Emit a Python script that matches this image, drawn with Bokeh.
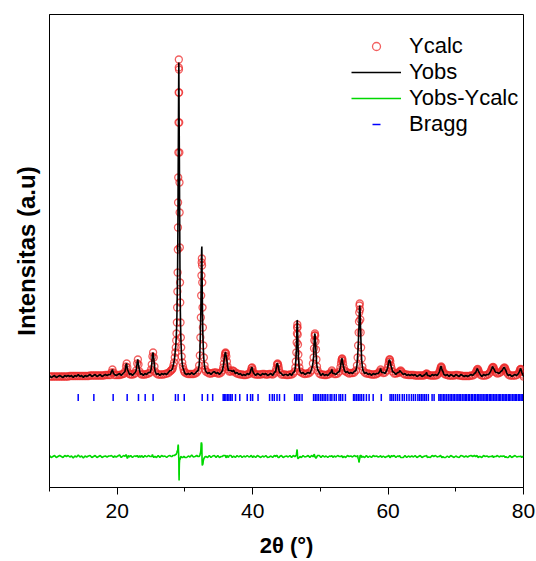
import numpy as np
from bokeh.plotting import figure
from bokeh.models import (Range1d, FixedTicker, Legend, LegendItem,
                          ColumnDataSource)
from bokeh.embed import file_html
from bokeh.resources import INLINE

# ---------------- data ----------------
# rows: background stretches and peaks, the three lists are row-aligned
two_theta = [
    10.0, 10.25, 10.5, 10.75, 11.0, 11.25, 11.5, 11.75, 12.0, 12.25, 12.5, 12.75,
    13.0, 13.25, 13.5, 13.75, 14.0, 14.25, 14.5, 14.75, 15.0, 15.25, 15.5, 15.75,
    16.0, 16.25, 16.5, 16.75, 17.0, 17.25, 17.5, 17.75, 18.0, 18.25, 18.5, 18.75,
    19.0, 19.15, 19.3, 19.45, 19.6,
    19.85, 20.1, 20.35, 20.6, 20.85,
    21.0, 21.15, 21.3, 21.4, 21.5, 21.65, 21.8,
    22.0, 22.25, 22.5, 22.65,
    22.8, 22.95, 23.05, 23.15, 23.3, 23.45,
    23.6, 23.85, 24.1, 24.35, 24.6, 24.85,
    25.0, 25.1, 25.2, 25.3, 25.4, 25.5, 25.6,
    25.8, 26.05, 26.3, 26.55, 26.8, 27.05, 27.3, 27.55, 27.8, 27.95,
    28.1, 28.2, 28.3, 28.4, 28.5, 28.58, 28.65, 28.71, 28.76, 28.81, 28.85,
    28.89, 28.92, 28.95, 28.97, 28.99, 29.01, 29.03, 29.05, 29.07, 29.09,
    29.1, 29.12, 29.14, 29.16, 29.18, 29.2, 29.22, 29.25, 29.28, 29.31,
    29.35, 29.4, 29.45, 29.52, 29.6, 29.7, 29.8, 29.9, 30.0,
    30.25, 30.5, 30.75, 31.0, 31.25, 31.5, 31.75, 31.95,
    32.1, 32.2, 32.28, 32.35, 32.4, 32.44, 32.47, 32.5, 32.53, 32.56,
    32.6, 32.65, 32.72, 32.8, 32.9, 33.0, 33.1,
    33.35, 33.6, 33.85, 34.1, 34.35, 34.6, 34.85, 35.1, 35.35,
    35.55, 35.65, 35.75, 35.83, 35.9, 35.96, 36.0, 36.05, 36.12, 36.2, 36.3, 36.42, 36.55,
    36.8, 37.0, 37.2, 37.45, 37.7, 37.95, 38.2, 38.45, 38.7, 38.95, 39.2, 39.45,
    39.65, 39.75, 39.85, 39.92, 40.0, 40.1, 40.2,
    40.45, 40.7, 40.95, 41.2, 41.45, 41.7, 41.95, 42.2, 42.45, 42.7, 42.95, 43.2,
    43.4, 43.5, 43.6, 43.68, 43.75, 43.82, 43.9, 44.0,
    44.25, 44.5, 44.75, 45.0, 45.25, 45.5, 45.75, 46.0, 46.2,
    46.3, 46.38, 46.45, 46.5, 46.54, 46.57, 46.6, 46.63, 46.66, 46.7, 46.75, 46.82, 46.9, 47.0,
    47.2, 47.45, 47.7, 47.95, 48.2, 48.45, 48.7,
    48.9, 49.0, 49.06, 49.11, 49.16, 49.2, 49.24, 49.29, 49.35, 49.42, 49.5, 49.6,
    49.85, 50.1, 50.35, 50.6, 50.85, 51.1, 51.35,
    51.55, 51.7, 51.85,
    52.05, 52.3, 52.55, 52.8,
    52.95, 53.05, 53.12, 53.18, 53.22, 53.28, 53.35, 53.45, 53.55,
    53.75, 54.0, 54.25, 54.5, 54.75, 55.0, 55.25,
    55.4, 55.5, 55.58, 55.65, 55.7, 55.74, 55.78, 55.82, 55.86, 55.9, 55.95, 56.02, 56.1, 56.2, 56.3,
    56.55, 56.8, 57.05, 57.3, 57.55, 57.8, 58.05, 58.3, 58.55,
    58.75, 58.9, 59.05,
    59.3, 59.55, 59.8,
    59.95, 60.05, 60.13, 60.2, 60.26, 60.33, 60.42, 60.52, 60.65,
    60.9, 61.15, 61.4, 61.6,
    61.72, 61.85, 61.98,
    62.25, 62.5, 62.75, 63.0, 63.25, 63.5, 63.75, 64.0, 64.25, 64.5, 64.75, 65.0, 65.25, 65.45,
    65.6, 65.7, 65.8,
    66.0, 66.25, 66.5, 66.75, 67.0, 67.25, 67.45,
    67.6, 67.7, 67.78, 67.85, 67.92, 68.0, 68.1, 68.25,
    68.5, 68.75, 69.0, 69.25, 69.5, 69.75, 70.0, 70.25, 70.5, 70.75, 71.0, 71.25,
    71.5, 71.75, 72.0, 72.25, 72.5, 72.75,
    72.95, 73.05, 73.15, 73.25, 73.35, 73.45, 73.6,
    73.85, 74.1, 74.35, 74.6, 74.85, 75.05,
    75.2, 75.32, 75.42, 75.5, 75.58, 75.68, 75.8, 75.95,
    76.15, 76.4, 76.65, 76.85,
    77.0, 77.1, 77.2, 77.3, 77.4, 77.55,
    77.75, 78.0, 78.25, 78.5, 78.75, 79.0, 79.25,
    79.4, 79.5, 79.58, 79.65, 79.75, 79.87, 80.0,
]

y_calc = [
    111, 111, 111, 111, 111, 111, 111, 111, 111, 111, 111, 111,
    111.5, 111.5, 111.5, 111.5, 111.5, 111.5, 111.5, 111.5, 111.5, 111.5, 111.5, 111.5,
    112, 112, 112, 112, 112, 112, 112, 112, 112, 112.5, 112.5, 112.5,
    112.5, 115, 118, 115, 112.5,
    112.5, 112.5, 112.5, 113, 113.5,
    114, 116, 121, 124, 120, 115, 113.5,
    113, 113, 113.5, 114.5,
    117, 124, 128, 123, 116, 114,
    113, 113, 113, 113.5, 114, 115,
    118, 123, 131, 135, 130, 121, 116,
    114, 113, 113, 113, 113, 113.5, 114, 114.5, 116, 117,
    118, 119, 122, 125, 130, 135, 140, 147, 154, 165, 180,
    196, 215, 238, 260, 285, 310, 335, 365, 395, 420,
    428, 418, 395, 365, 335, 305, 275, 240, 205, 185,
    165, 150, 140, 131, 125, 121, 118, 116, 115,
    114, 113.5, 113.5, 113.5, 113.5, 114, 115, 117,
    122, 132, 150, 170, 192, 212, 225, 229, 222, 205,
    180, 160, 142, 130, 122, 118, 116,
    115, 114, 114, 114.5, 115, 115, 114, 114, 115,
    117, 120, 124, 129, 132, 134, 135, 134, 131, 126, 121, 118, 116,
    116, 117, 116.5, 115, 114, 113.5, 113, 113, 112.5, 112.5, 113, 113.5,
    115, 117, 119.5, 120, 118, 115, 113.5,
    113, 113, 113, 113, 113.5, 113.5, 113, 113, 113.5, 113.5, 113, 114,
    116, 119, 123, 124, 123, 121, 118, 115,
    113, 113, 113, 112.5, 112.5, 113, 113, 114, 116,
    120, 126, 135, 145, 154, 160, 163, 160, 153, 143, 133, 125, 120, 116,
    115, 114, 113.5, 114, 114, 115, 117,
    124, 130, 139, 147, 152, 154, 152, 146, 138, 128, 121, 117,
    114, 113, 113, 112.5, 112.5, 113, 113.5,
    115, 117, 115,
    113.5, 113.5, 114, 116,
    120, 124, 127, 128.5, 129, 127, 124, 120, 117,
    116, 115, 114, 114.5, 114.5, 115, 117,
    122, 130, 142, 155, 166, 175, 182, 184, 178, 168, 155, 140, 129, 121, 117,
    115, 114, 114, 113.5, 113, 113, 113, 113.5, 114.5,
    116, 118, 116,
    114.5, 115, 117,
    120, 123, 126, 128, 128, 126, 122, 119, 116,
    114, 114, 114.5, 115,
    116, 117, 116,
    114, 113, 113, 112.5, 112.5, 112.5, 112.5, 112, 112, 112, 112, 112, 112, 112.5,
    113.5, 114, 113,
    112.5, 112, 112, 112, 112, 112.5, 114,
    116, 118, 120, 121, 120, 118, 116, 114,
    113, 112.5, 112, 112, 112, 112, 112.5, 112.5, 112, 112, 111.5, 111.5,
    111.5, 111.5, 111.5, 112, 112, 113,
    115, 116.5, 118, 118.5, 117, 115, 113,
    112, 112, 112, 112.5, 113.5, 115,
    117, 119, 120, 120.5, 120, 118, 116, 115,
    114, 114.5, 115.5, 117,
    118.5, 119.5, 120, 119, 117, 115,
    113, 112, 112, 112, 112, 112.5, 114,
    116, 118, 118.5, 118, 116, 113, 111,
]

y_obs = [
    112, 110, 111, 112, 110, 111, 112, 111, 110, 112, 111, 112,
    111, 112, 110, 112, 111, 113, 111, 112, 110, 112, 111, 112,
    113, 111, 112, 113, 111, 112, 113, 111, 112, 113, 112, 113,
    113, 116, 118, 114, 113,
    112, 113, 114, 112, 114,
    115, 116, 123, 124, 118, 116, 113,
    114, 112, 114, 115,
    117, 125, 128, 122, 117, 113,
    114, 112, 114, 113, 115, 115,
    118, 123, 133, 135, 129, 121, 116,
    113, 114, 112, 114, 113, 114, 113, 115, 117, 117,
    118, 120, 123, 126, 131, 137, 142, 149, 157, 169, 185,
    202, 220, 245, 270, 296, 322, 345, 370, 398, 418,
    425, 400, 371, 352, 328, 300, 272, 238, 202, 183,
    164, 150, 140, 130, 124, 120, 118, 116, 114,
    113, 114, 113, 115, 113, 114, 116, 117,
    122, 133, 153, 176, 205, 226, 238, 241, 218, 196,
    172, 152, 138, 128, 121, 118, 116,
    114, 115, 113, 115, 116, 114, 115, 113, 115,
    117, 121, 125, 130, 133, 135, 135, 133, 130, 127, 121, 117, 117,
    117, 116, 117, 114, 115, 113, 114, 112, 113, 112, 114, 113,
    115, 118, 120, 120, 117, 115, 114,
    112, 114, 113, 112, 114, 113, 114, 112, 113, 114, 112, 115,
    116, 120, 124, 124, 122, 120, 117, 115,
    114, 112, 113, 113, 112, 114, 112, 115, 116,
    120, 127, 136, 149, 160, 167, 167, 160, 151, 141, 131, 124, 119, 116,
    114, 115, 113, 114, 115, 114, 118,
    124, 130, 141, 149, 153, 154, 151, 145, 136, 127, 121, 118,
    115, 112, 114, 112, 113, 112, 114,
    115, 118, 114,
    114, 113, 115, 116,
    120, 124, 128, 129, 129, 126, 123, 120, 117,
    115, 116, 114, 115, 114, 116, 117,
    122, 131, 140, 152, 160, 170, 179, 182, 179, 169, 156, 141, 128, 121, 117,
    114, 115, 113, 114, 112, 114, 113, 114, 114,
    116, 119, 115,
    115, 114, 117,
    120, 124, 127, 128, 127, 125, 122, 120, 116,
    115, 113, 115, 115,
    117, 116, 115,
    113, 114, 112, 113, 112, 113, 112, 113, 111, 112, 113, 111, 112, 113,
    114, 115, 112,
    112, 111, 113, 112, 113, 112, 114,
    116, 119, 121, 121, 119, 117, 116, 113,
    112, 113, 111, 113, 112, 111, 113, 112, 111, 113, 112, 111,
    112, 111, 112, 113, 112, 114,
    115, 117, 119, 118, 116, 115, 113,
    111, 113, 112, 113, 113, 115,
    117, 119, 121, 120, 119, 118, 116, 115,
    115, 114, 116, 117,
    119, 120, 120, 118, 117, 114,
    112, 113, 111, 112, 113, 112, 114,
    116, 118, 119, 118, 115, 113, 111,
]

bragg_pos = [
    14.24, 16.55, 19.40, 21.47, 23.14, 24.13, 25.30, 28.60, 29.00, 29.90,
    32.55, 33.35, 34.10, 35.65, 35.85, 36.05, 36.30, 36.50, 36.75, 36.98,
    37.47, 38.10, 39.20, 39.70, 40.00, 40.80, 42.50, 42.90, 43.20, 43.60,
    43.97, 44.70, 46.20, 46.45, 46.70, 46.95, 47.30,
    49.00, 49.25, 49.50, 49.75, 50.05, 50.30, 50.55, 50.80, 51.10, 51.45,
    51.70, 52.05, 52.35, 52.75, 53.00, 53.30, 53.70,
    54.90, 55.10, 55.35, 55.60, 55.85, 56.10, 56.40, 56.80, 57.20, 57.80,
    59.00, 60.30, 60.55, 60.80, 61.10, 61.40, 61.70, 62.10, 62.40, 62.75,
    63.10, 63.45, 63.75, 64.05, 64.40, 64.65, 64.90, 65.15, 65.40, 65.65,
    65.95, 66.50, 66.80, 67.50, 67.70, 67.95, 68.20, 68.40, 68.65, 68.90,
    69.15, 69.35, 69.60, 69.80, 70.05, 70.30, 70.50, 70.70, 70.95, 71.20,
    71.40, 71.60, 71.85, 72.05, 72.30, 72.50, 72.75, 72.95, 73.20, 73.40,
    73.60, 73.85, 74.05, 74.30, 74.50, 74.70, 74.95, 75.15, 75.35, 75.60,
    75.80, 76.00, 76.25, 76.45, 76.65, 76.90, 77.10, 77.30, 77.50, 77.75,
    77.95, 78.15, 78.40, 78.60, 78.80, 79.00, 79.25, 79.45, 79.65, 79.85,
]

x_major_ticks = [20, 40, 60, 80]
x_minor_ticks = [10, 30, 50, 70]
diff_offset = 31
bragg_level = 90

assert len(two_theta) == len(y_calc) == len(y_obs), (len(two_theta), len(y_calc), len(y_obs))

y_diff = (np.array(y_obs) - np.array(y_calc) + diff_offset).tolist()

src = ColumnDataSource(dict(x=two_theta, calc=y_calc, obs=y_obs, diff=y_diff))
bsrc = ColumnDataSource(dict(x=bragg_pos, y=[bragg_level] * len(bragg_pos)))

FONT = "Liberation Sans"

p = figure(frame_width=474, frame_height=473,
           x_range=Range1d(10, 80), y_range=Range1d(0, 473),
           output_backend="svg", toolbar_location=None,
           min_border_left=49, min_border_right=12,
           min_border_top=14, min_border_bottom=72)
p.xgrid.visible = False
p.ygrid.visible = False
p.outline_line_color = "black"
p.outline_line_alpha = 1.0

r_calc = p.scatter("x", "calc", source=src, marker="circle", size=7,
                   fill_color=None, line_color="#ee2a2a", line_alpha=0.75,
                   line_width=1.3)
r_obs = p.line("x", "obs", source=src, line_color="black", line_width=1.6)
r_diff = p.line("x", "diff", source=src, line_color="#00d800", line_width=1.6)
r_bragg = p.scatter("x", "y", source=bsrc, marker="dash", angle=np.pi / 2,
                    size=7, line_color="#0000ff", line_width=1.5)

# axes
p.xaxis.ticker = FixedTicker(ticks=x_major_ticks, minor_ticks=x_minor_ticks)
p.xaxis.major_tick_out = 7
p.xaxis.major_tick_in = 0
p.xaxis.minor_tick_out = 4
p.xaxis.minor_tick_in = 0
p.xaxis.major_label_text_font = FONT
p.xaxis.major_label_text_font_size = "21px"
p.xaxis.major_label_text_color = "black"
p.xaxis.major_label_standoff = 9
p.xaxis.axis_line_color = "black"
p.xaxis.major_tick_line_color = "black"
p.xaxis.minor_tick_line_color = "black"
p.xaxis.axis_label = "2θ (°)"
p.xaxis.axis_label_text_font = FONT
p.xaxis.axis_label_text_font_style = "bold"
p.xaxis.axis_label_text_font_size = "22px"
p.xaxis.axis_label_text_color = "black"
p.xaxis.axis_label_standoff = 12

p.yaxis.ticker = FixedTicker(ticks=[])
p.yaxis.axis_label = "Intensitas (a.u)"
p.yaxis.axis_label_text_font = FONT
p.yaxis.axis_label_text_font_style = "bold"
p.yaxis.axis_label_text_font_size = "24px"
p.yaxis.axis_label_text_color = "black"
p.yaxis.axis_label_standoff = 10
p.yaxis.axis_line_color = "black"

legend = Legend(items=[
    LegendItem(label="Ycalc", renderers=[r_calc]),
    LegendItem(label="Yobs", renderers=[r_obs]),
    LegendItem(label="Yobs-Ycalc", renderers=[r_diff]),
    LegendItem(label="Bragg", renderers=[r_bragg]),
], location=(302, 350))
legend.border_line_color = None
legend.background_fill_alpha = 0
legend.label_text_font = FONT
legend.label_text_font_size = "22px"
legend.label_text_color = "black"
legend.glyph_width = 50
legend.glyph_height = 20
legend.label_standoff = 8
legend.spacing = 0
legend.padding = 3
legend.margin = 0
p.add_layout(legend)

open("out.html", "w").write(file_html(p, INLINE))
